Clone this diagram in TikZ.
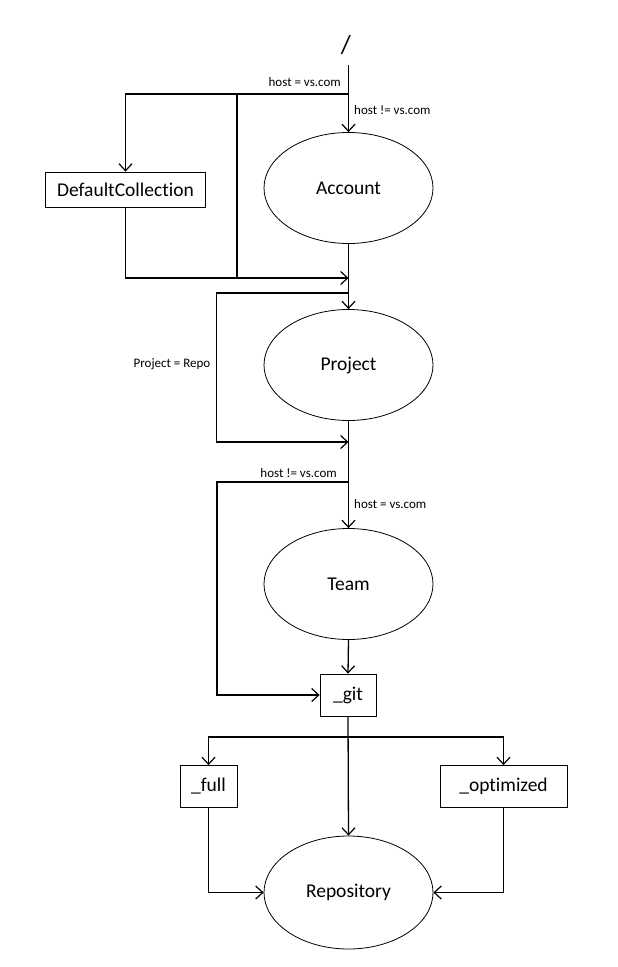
\documentclass[tikz,border=0pt]{standalone}
\usepackage{fontspec}
\setmainfont[Ligatures=NoCommon]{Carlito}
\usetikzlibrary{arrows.meta,shapes.geometric}
\begin{document}
\begin{tikzpicture}[x=1pt,y=-1pt,
  oval/.style={ellipse,draw,line width=0.8pt,minimum width=169pt,minimum height=111pt,inner sep=0pt,font=\fontsize{19.5}{22}\selectfont},
  box/.style={rectangle,draw,line width=0.8pt,inner sep=0pt,font=\fontsize{19.5}{22}\selectfont},
  link/.style={line width=1.3pt},
  arr/.style={link,-{Straight Barb[length=7pt,width=13pt,line width=1.2pt]}},
  cond/.style={font=\fontsize{13}{15}\selectfont,inner sep=0pt}]
\useasboundingbox (0,0) rectangle (618,967);

% states and resources
\node[font=\fontsize{26}{30}\selectfont] (root) at (346,45) {/};
\node[oval] (acc) at (348.5,188) {Account};
\node[box,minimum width=160pt,minimum height=35pt] (dc) at (125.5,189.5) {DefaultCollection};
\node[oval] (proj) at (348.5,365) {Project};
\node[oval] (team) at (348.5,584) {Team};
\node[box,minimum width=56pt,minimum height=42pt] (git) at (348,695) {\_git};
\node[box,minimum width=57pt,minimum height=42pt] (full) at (208.5,786.5) {\_full};
\node[box,minimum width=127pt,minimum height=42pt] (opt) at (503.5,786.5) {\_optimized};
\node[oval,minimum height=113pt] (repo) at (348.5,892.5) {Repository};

% branch points
\coordinate (start) at (348.5,65);
\coordinate (split) at (348.5,94);
\coordinate (mid) at (237,94);
\coordinate (midlow) at (237,278);
\coordinate (merge) at (348.5,278);
\coordinate (pskip) at (348.5,293);
\coordinate (pjoin) at (348.5,442);
\coordinate (tskip) at (348.5,482);
\coordinate (fork) at (348,737);

% host split before the account
\draw[arr] (start) -- (acc.north);
\draw[arr] (split) -| (dc.north);
\draw[link] (mid) -- (midlow);
\draw[arr] (dc.south) |- (merge);
\draw[arr] (acc.south) -- (proj.north);

% optional project
\draw[arr] (pskip) -- ++(-132,0) |- (pjoin);
\draw[arr] (proj.south) -- (team.north);

% optional team
\draw[arr] (tskip) -- ++(-131.5,0) |- (git.west);
\draw[arr] (team.south) -- (git.north);

% repository variants
\draw[arr] (git.south) -- (repo.north);
\draw[arr] (fork) -| (full.north);
\draw[arr] (fork) -| (opt.north);
\draw[arr] (full.south) |- (repo.west);
\draw[arr] (opt.south) |- (repo.east);

% conditions
\node[cond,anchor=east] (c1) at (341,82) {host = vs.com};
\node[cond,anchor=west] (c2) at (354,110) {host != vs.com};
\node[cond] (c3) at (172,364) {Project = Repo};
\node[cond,anchor=east] (c4) at (337,473) {host != vs.com};
\node[cond,anchor=west] (c5) at (354,504) {host = vs.com};
\end{tikzpicture}
\end{document}
